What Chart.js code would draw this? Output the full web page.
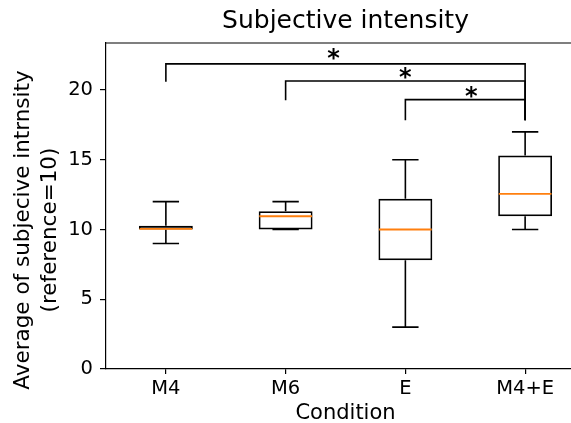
<!DOCTYPE html>
<html>
<head>
<meta charset="utf-8">
<script src="https://cdn.jsdelivr.net/npm/chart.js@4.4.0/dist/chart.umd.min.js"></script>
<style>
  html, body { margin: 0; padding: 0; background: #fff; overflow: hidden; }
  #wrap { width: 600px; height: 423px; position: relative; }
</style>
</head>
<body>
<div id="wrap"><canvas id="grafico"></canvas></div>
<script>
// categorias e estatisticas do boxplot
const CATEGORIAS = ['M4', 'M6', 'E', 'M4+E'];
const MINIMOS = [9, 10, 3, 10];
const Q1 = [10, 10, 7.8, 10.95];
const MEDIANAS = [10.05, 10.95, 10, 12.55];
const Q3 = [10.27, 11.3, 12.2, 15.3];
const MAXIMOS = [12, 12, 15, 17];

const Y_TICKS = [0, 5, 10, 15, 20];

// colchetes de significancia
const COLCHETE_DE = [0, 1, 2];
const COLCHETE_ATE = [3, 3, 3];
const COLCHETE_ALTURA = [21.87, 20.65, 19.31];
const PERNA_ESQ = [20.6, 19.26, 17.83];
const PERNA_DIR = [17.83, 17.83, 17.83];
const ESTRELA_X = [1.4, 2.0, 2.55];
const ESTRELA_Y = [22.7, 21.35, 20.0];

const FONTE = 'DejaVu Sans';

/* --- Bigodes, medianas, colchetes e rotulo Y --- */
const pluginBoxplot = {
  id: 'boxplot',
  afterDatasetsDraw(chart) {
    const { ctx, scales: { x, y }, chartArea } = chart;
    const larguraCat = x.getPixelForValue(1) - x.getPixelForValue(0);
    const meiaCaixa = larguraCat * 0.44 / 2;
    const meiaTampa = meiaCaixa / 2;

    ctx.save();
    ctx.lineCap = 'butt';

    CATEGORIAS.forEach((c, i) => {
      const px = x.getPixelForValue(i);
      ctx.strokeStyle = '#000';
      ctx.lineWidth = 1.6;
      ctx.beginPath();
      ctx.moveTo(px, y.getPixelForValue(Q3[i]));
      ctx.lineTo(px, y.getPixelForValue(MAXIMOS[i]));
      ctx.moveTo(px, y.getPixelForValue(Q1[i]));
      ctx.lineTo(px, y.getPixelForValue(MINIMOS[i]));
      ctx.moveTo(px - meiaTampa, y.getPixelForValue(MAXIMOS[i]));
      ctx.lineTo(px + meiaTampa, y.getPixelForValue(MAXIMOS[i]));
      ctx.moveTo(px - meiaTampa, y.getPixelForValue(MINIMOS[i]));
      ctx.lineTo(px + meiaTampa, y.getPixelForValue(MINIMOS[i]));
      ctx.stroke();

      ctx.strokeStyle = '#ff7f0e';
      ctx.lineWidth = 1.8;
      ctx.beginPath();
      ctx.moveTo(px - meiaCaixa, y.getPixelForValue(MEDIANAS[i]));
      ctx.lineTo(px + meiaCaixa, y.getPixelForValue(MEDIANAS[i]));
      ctx.stroke();
    });

    // colchetes
    ctx.strokeStyle = '#000';
    ctx.lineWidth = 1.6;
    COLCHETE_DE.forEach((de, i) => {
      const x1 = x.getPixelForValue(de);
      const x2 = x.getPixelForValue(COLCHETE_ATE[i]);
      const yt = y.getPixelForValue(COLCHETE_ALTURA[i]);
      ctx.beginPath();
      ctx.moveTo(x1, y.getPixelForValue(PERNA_ESQ[i]));
      ctx.lineTo(x1, yt);
      ctx.lineTo(x2, yt);
      ctx.lineTo(x2, y.getPixelForValue(PERNA_DIR[i]));
      ctx.stroke();

      ctx.fillStyle = '#000';
      ctx.font = 'bold 24px "' + FONTE + '"';
      ctx.textAlign = 'center';
      ctx.textBaseline = 'alphabetic';
      ctx.fillText('*', x.getPixelForValue(ESTRELA_X[i]), y.getPixelForValue(ESTRELA_Y[i]) + 24 * 0.58);
    });

    // borda superior
    ctx.lineWidth = 1.2;
    ctx.beginPath();
    ctx.moveTo(chartArea.left, chartArea.top);
    ctx.lineTo(chart.width, chartArea.top);
    ctx.stroke();

    // rotulo do eixo Y (duas linhas)
    ctx.translate(37, (chartArea.top + chartArea.bottom) / 2 + 24);
    ctx.rotate(-Math.PI / 2);
    ctx.font = '21.5px "' + FONTE + '"';
    ctx.textAlign = 'center';
    ctx.textBaseline = 'middle';
    ctx.fillText('Average of subjecive intrnsity', 0, -13.5);
    ctx.fillText('(reference=10)', 0, 13.5);
    ctx.restore();
  },
};

function renderizar() {
  const ctx = document.getElementById('grafico').getContext('2d');

  new Chart(ctx, {
    type: 'bar',
    data: {
      labels: CATEGORIAS,
      datasets: [{
        data: CATEGORIAS.map((c, i) => [Q1[i], Q3[i]]),
        backgroundColor: 'rgba(0,0,0,0)',
        borderColor: '#000',
        borderWidth: 1.7,
        borderSkipped: false,
        barPercentage: 0.45,
        categoryPercentage: 1.0,
      }],
    },
    options: {
      responsive: true,
      maintainAspectRatio: false,
      animation: false,
      layout: { padding: { top: 0, left: 0, bottom: 0, right: 15 } },
      plugins: {
        legend: { display: false },
        tooltip: { enabled: false },
        title: {
          display: true,
          text: 'Subjective intensity',
          fullSize: false,
          color: '#000',
          font: { family: FONTE, size: 25, weight: 'normal', lineHeight: 1.2 },
          padding: { top: 6, bottom: 7 },
        },
      },
      scales: {
        x: {
          afterFit: (s) => { s.height = 54; },
          grid: { display: true, offset: false, drawOnChartArea: false, drawTicks: true, tickLength: 5, color: '#000', lineWidth: 1.2 },
          border: { display: true, color: '#000', width: 1.2 },
          ticks: { color: '#000', padding: 3, font: { family: FONTE, size: 19.5 } },
          title: {
            display: true,
            text: 'Condition',
            color: '#000',
            font: { family: FONTE, size: 21, lineHeight: 1 },
            padding: { top: 0, bottom: -1 },
          },
        },
        y: {
          min: 0,
          max: 23.37,
          afterFit: (s) => { s.width = 106; },
          afterBuildTicks: (s) => { s.ticks = Y_TICKS.map(v => ({ value: v })); },
          grid: { display: true, drawOnChartArea: false, drawTicks: true, tickLength: 6, color: '#000', lineWidth: 1.2 },
          border: { display: true, color: '#000', width: 1.2 },
          ticks: { color: '#000', padding: 7, font: { family: FONTE, size: 19.5 } },
        },
      },
    },
    plugins: [pluginBoxplot],
  });
}

document.addEventListener('DOMContentLoaded', renderizar);
</script>
</body>
</html>
